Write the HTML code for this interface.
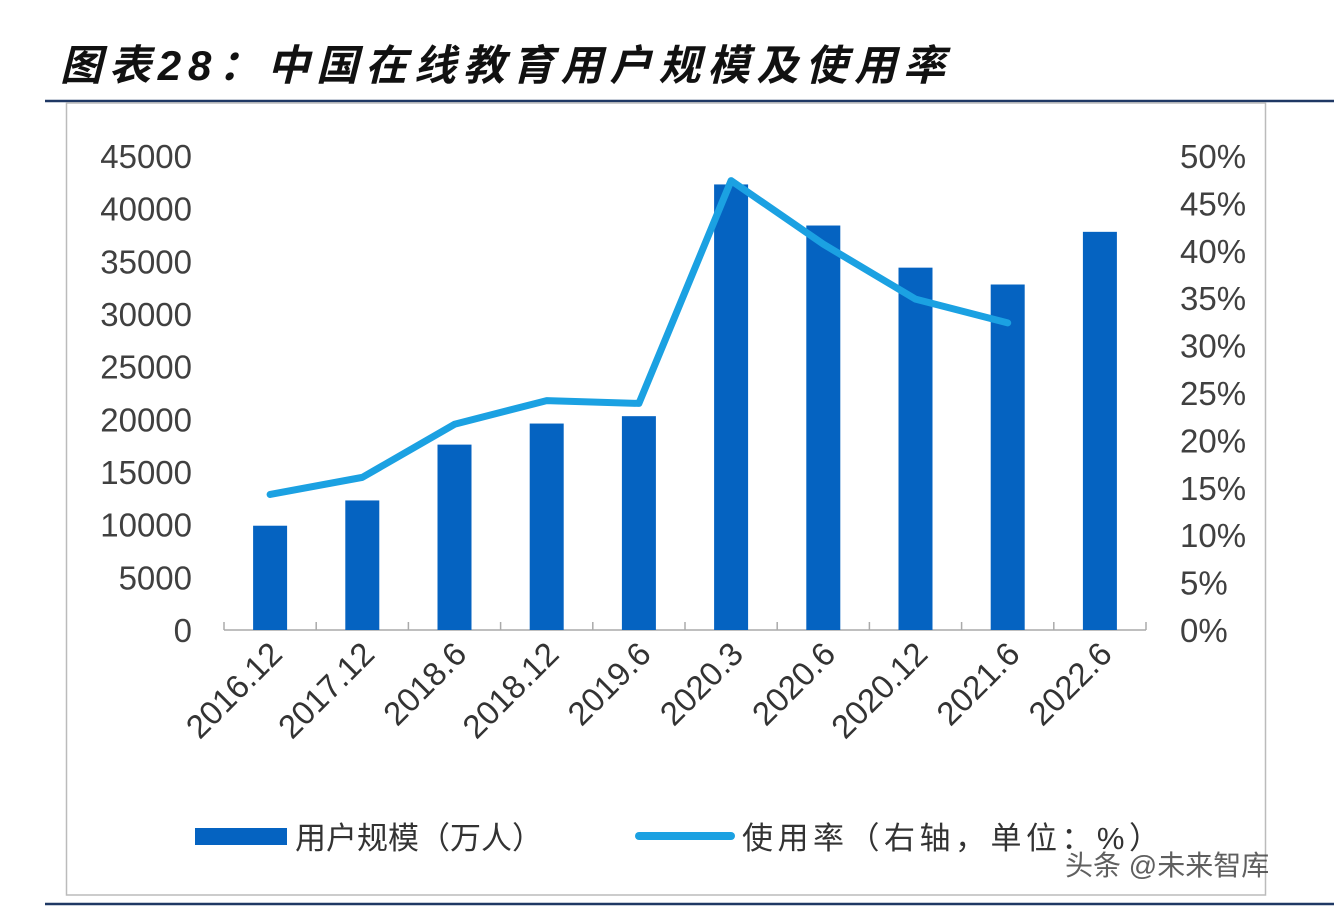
<!DOCTYPE html>
<html><head><meta charset="utf-8"><style>
body{margin:0;background:#fff;width:1334px;height:908px;overflow:hidden;font-family:"Liberation Sans","Noto Sans CJK SC",sans-serif;}
</style></head><body>
<svg width="1334" height="908" xmlns="http://www.w3.org/2000/svg">
<text x="60" y="80" font-size="42" font-weight="bold" font-style="italic" fill="#111" textLength="885" lengthAdjust="spacing" font-family="Liberation Sans, Noto Sans CJK SC, sans-serif">图表28：中国在线教育用户规模及使用率</text>
<line x1="45" y1="101" x2="1334" y2="101" stroke="#1f3864" stroke-width="2.5"/>
<rect x="66.5" y="103" width="1199" height="792" fill="none" stroke="#bbb" stroke-width="1.5"/>
<line x1="45" y1="904" x2="1334" y2="904" stroke="#1f3864" stroke-width="2.5"/>
<g id="plot"></g>
<g>
<rect x="195" y="828" width="92" height="17" fill="#0563c1"/>
<text x="295" y="849" font-size="31" fill="#333">用户规模（万人）</text>
<line x1="639" y1="836" x2="731" y2="836" stroke="#1ba1e2" stroke-width="8" stroke-linecap="round"/>
<text x="742" y="849" font-size="31" fill="#333" textLength="418" lengthAdjust="spacing">使用率（右轴，单位：%）</text>
</g>
<text x="1065" y="875" font-size="28" fill="#444" opacity="0.85">头条 @未来智库</text>
</svg>
<script>
const categories=["2016.12","2017.12","2018.6","2018.12","2019.6","2020.3","2020.6","2020.12","2021.6","2022.6"];
const users=[9900,12300,17600,19600,20300,42300,38400,34400,32800,37800];
const rate=[14.3,16.1,21.7,24.2,23.9,47.4,40.7,34.9,32.4,null];
const leftTicks=[0,5000,10000,15000,20000,25000,30000,35000,40000,45000];
const rightTicks=[0,5,10,15,20,25,30,35,40,45,50];
const NS="http://www.w3.org/2000/svg";
const g=document.getElementById('plot');
const x0=224,x1=1146,yb=630,yt=156;
const bw=(x1-x0)/categories.length;
const yL=v=>yb-(v/45000)*(yb-yt);
const yR=v=>yb-(v/50)*(yb-yt);
const xc=i=>x0+bw*(i+0.5);
function mk(t,a){const e=document.createElementNS(NS,t);for(const k in a)e.setAttribute(k,a[k]);g.appendChild(e);return e;}
leftTicks.forEach(v=>{const t=mk('text',{x:192,y:yL(v)+12,'font-size':33,fill:'#404040','text-anchor':'end'});t.textContent=v;

});
rightTicks.forEach(v=>{const t=mk('text',{x:1180,y:yR(v)+12,'font-size':33,fill:'#404040'});t.textContent=v+'%';

});
const ax=mk('line',{x1:x0,y1:yb,x2:x1,y2:yb,stroke:'#aaa','stroke-width':1.5});


for(let i=0;i<=categories.length;i++){const t=mk('line',{x1:x0+bw*i,y1:yb,x2:x0+bw*i,y2:yb-8,stroke:'#aaa','stroke-width':1.5});

}
users.forEach((v,i)=>{const r=mk('rect',{x:xc(i)-17,y:yL(v),width:34,height:yb-yL(v),fill:'#0563c1'});

});
categories.forEach((c,i)=>{const cx=xc(i)+14,cy=656;const t=mk('text',{x:cx,y:cy,'font-size':33,fill:'#333','text-anchor':'end',transform:`rotate(-45 ${cx} ${cy})`});t.textContent=c;

});
const pts=rate.map((v,i)=>v==null?null:[xc(i),yR(v)]).filter(p=>p);
const pl=mk('polyline',{points:pts.map(p=>p.join(',')).join(' '),fill:'none',stroke:'#1ba1e2','stroke-width':7,'stroke-linejoin':'round','stroke-linecap':'round'});


</script>
</body></html>
